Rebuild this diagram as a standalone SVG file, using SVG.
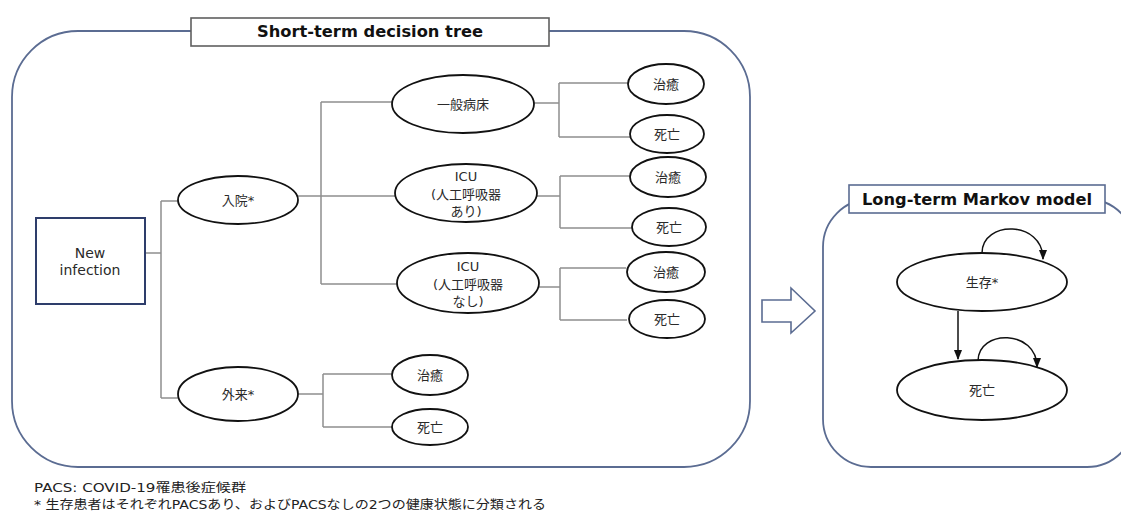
<svg xmlns="http://www.w3.org/2000/svg" width="1121" height="511" viewBox="0 0 1121 511">
<style>
.panel{fill:none;stroke:#5b6c92;stroke-width:1.8}
.ttlbox{fill:#fff;stroke:#5f5f5f;stroke-width:1.6}
.ttl{font-family:"DejaVu Sans","Noto Sans CJK JP",sans-serif;font-weight:bold;font-size:16px;fill:#111;text-anchor:middle}
.node{fill:#fff;stroke:#111;stroke-width:1.8}
.t{font-family:"DejaVu Sans","Noto Sans CJK JP",sans-serif;font-size:13px;fill:#2a2a2a;text-anchor:middle}
.conn{fill:none;stroke:#8f8f8f;stroke-width:1.5}
.mk{fill:none;stroke:#111;stroke-width:1.5}
.foot{font-family:"DejaVu Sans","Noto Sans CJK JP",sans-serif;font-size:12.5px;fill:#222}
</style>
<defs>
<marker id="ah" viewBox="0 0 10 10" refX="9" refY="5" markerWidth="7" markerHeight="7" orient="auto">
<path d="M0,1 L10,5 L0,9 z" fill="#111"/>
</marker>
</defs>
<rect width="1121" height="511" fill="#fff"/>

<g id="short-term-panel">
<rect class="panel" x="12" y="31" width="738" height="436" rx="66" ry="66"/>
<rect class="ttlbox" x="191" y="18" width="358" height="28"/>
<text class="ttl" x="370" y="37" textLength="226" lengthAdjust="spacingAndGlyphs">Short-term decision tree</text>
</g>

<g id="long-term-panel">
<rect class="panel" x="823" y="199" width="312" height="268" rx="48" ry="48"/>
<rect class="ttlbox" x="849" y="185" width="256" height="28" style="stroke:#5b6c92"/>
<text class="ttl" x="977" y="205" textLength="230" lengthAdjust="spacingAndGlyphs">Long-term Markov model</text>
</g>

<g id="connectors">
<path class="conn" d="M145,253 H161 M161,201 V398 M161,201 H178 M161,398 H178"/>
<path class="conn" d="M298,196 H321 M321,102 V284 M321,102 H392 M321,196 H395 M321,284 H397"/>
<path class="conn" d="M534,103 H559 M559,83 V137 M559,83 H628 M559,137 H630"/>
<path class="conn" d="M537,196 H560 M560,176 V228 M560,176 H630 M560,228 H632"/>
<path class="conn" d="M539,287 H560 M560,268 V320 M560,268 H626 M560,320 H627"/>
<path class="conn" d="M298,394 H323 M323,374 V427 M323,374 H392 M323,427 H392"/>
<path class="mk" d="M958,311 V359" marker-end="url(#ah)"/>
<path class="mk" d="M982,253 C982,220 1043,220 1043,259" marker-end="url(#ah)"/>
<path class="mk" d="M978,361 C978,329 1037,329 1037,367" marker-end="url(#ah)"/>
</g>

<g id="big-arrow">
<polygon points="762,300 791,300 791,288 815,311 791,333 791,322 762,322" fill="#fff" stroke="#5b6c92" stroke-width="1.6"/>
</g>

<g id="new-infection">
<rect x="36" y="218" width="109" height="86" fill="#fff" stroke="#2e3d6b" stroke-width="2"/>
<text class="t" x="90" y="258" style="font-size:14px">New</text>
<text class="t" x="90" y="275" style="font-size:14px">infection</text>
</g>

<g id="nyuin">
<ellipse class="node" cx="238" cy="200" rx="60" ry="24"/>
<text class="t" x="238" y="205">入院*</text>
</g>

<g id="gairai">
<ellipse class="node" cx="238" cy="394" rx="60" ry="27"/>
<text class="t" x="238" y="399">外来*</text>
</g>

<g id="ippan">
<ellipse class="node" cx="463" cy="104" rx="71" ry="29"/>
<text class="t" x="463" y="109">一般病床</text>
</g>

<g id="icu-ari">
<ellipse class="node" cx="466" cy="193" rx="71" ry="29"/>
<text class="t" x="466" y="181">ICU</text>
<text class="t" x="466" y="199">(人工呼吸器</text>
<text class="t" x="466" y="216">あり)</text>
</g>

<g id="icu-nashi">
<ellipse class="node" cx="468" cy="283" rx="71" ry="30"/>
<text class="t" x="468" y="271">ICU</text>
<text class="t" x="468" y="289">(人工呼吸器</text>
<text class="t" x="468" y="306">なし)</text>
</g>

<g id="cure1"><ellipse class="node" cx="666" cy="84" rx="38" ry="20"/><text class="t" x="666" y="89">治癒</text></g>
<g id="death1"><ellipse class="node" cx="667" cy="134" rx="37" ry="19"/><text class="t" x="667" y="139">死亡</text></g>
<g id="cure2"><ellipse class="node" cx="668" cy="177" rx="38" ry="20"/><text class="t" x="668" y="182">治癒</text></g>
<g id="death2"><ellipse class="node" cx="669" cy="227" rx="37" ry="19"/><text class="t" x="669" y="232">死亡</text></g>
<g id="cure3"><ellipse class="node" cx="666" cy="272" rx="39" ry="20"/><text class="t" x="666" y="277">治癒</text></g>
<g id="death3"><ellipse class="node" cx="667" cy="319" rx="38" ry="19"/><text class="t" x="667" y="324">死亡</text></g>
<g id="cure4"><ellipse class="node" cx="430" cy="375" rx="38" ry="20"/><text class="t" x="430" y="380">治癒</text></g>
<g id="death4"><ellipse class="node" cx="430" cy="427" rx="38" ry="18"/><text class="t" x="430" y="432">死亡</text></g>

<g id="survive">
<ellipse class="node" cx="982" cy="282" rx="85" ry="29"/>
<text class="t" x="982" y="287">生存*</text>
</g>
<g id="dead">
<ellipse class="node" cx="982" cy="390" rx="85" ry="30"/>
<text class="t" x="982" y="395">死亡</text>
</g>

<g id="footnotes">
<text class="foot" x="34" y="492" textLength="212" lengthAdjust="spacingAndGlyphs">PACS: COVID-19罹患後症候群</text>
<text class="foot" x="34" y="509" textLength="512" lengthAdjust="spacingAndGlyphs">* 生存患者はそれぞれPACSあり、およびPACSなしの2つの健康状態に分類される</text>
</g>
</svg>
